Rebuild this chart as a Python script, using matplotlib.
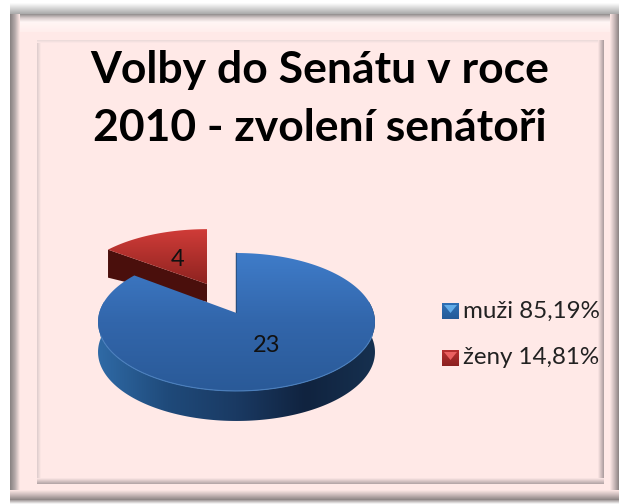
#!/usr/bin/python
# -*- coding: utf-8 -*-
import numpy as np
import matplotlib
matplotlib.use("Agg")
import matplotlib.pyplot as plt
from matplotlib.colors import LinearSegmentedColormap
from matplotlib.patches import Polygon, Rectangle

title = "Volby do Senátu v roce\n2010 - zvolení senátoři"
categories = ["muži", "ženy"]
values = [23, 4]
percent_labels = ["85,19%", "14,81%"]

plt.rcParams['font.family'] = ['Lato', 'DejaVu Sans']

fig = plt.figure(figsize=(6.19, 5.04), dpi=100, facecolor="white")
ax = fig.add_axes([0, 0, 1, 1])
ax.set_axis_off()


def grad(box, colors, horizontal=False, clip=None, z=1):
    x0, x1, y0, y1 = box
    cmap = LinearSegmentedColormap.from_list("g", colors)
    g = np.linspace(0, 1, 256)
    g = g.reshape(1, -1) if horizontal else g.reshape(-1, 1)
    im = ax.imshow(g, cmap=cmap, extent=(x0, x1, y1, y0), aspect="auto",
                   interpolation="bilinear", zorder=z, vmin=0, vmax=1)
    if clip is not None:
        im.set_clip_path(clip)
    return im


# drop shadow above the frame and the frame itself
grad((10, 619, 3, 14), ["#ffffff", "#a8a8a8"], z=1)
grad((10, 619, 500, 504), ["#a09898", "#ffffff"], z=1)
ax.add_patch(Rectangle((10, 14), 609, 486, fc="#ffe9e7", ec="none", zorder=2))
grad((10, 619, 14, 22), ["#8f8b8b", "#d8cccc", "#fff6f5"], z=3)
grad((10, 619, 22, 32), ["#fff6f5", "#ffeeec"], z=3)
grad((10, 20, 14, 500), ["#858080", "#b5aaaa", "#ffe9e7"], horizontal=True, z=4)
grad((610, 619, 14, 500), ["#ffe9e7", "#c8b8b8", "#8a8282"], horizontal=True, z=4)
grad((10, 619, 490, 500), ["#ffe9e7", "#c8b8b8", "#8a8282"], z=4)
grad((37, 41, 40, 482), ["#dccccc", "#ffe9e7"], horizontal=True, z=3)
grad((37, 603, 40, 43), ["#e8d8d8", "#ffe9e7"], z=3)
grad((598, 604, 40, 484), ["#ffe9e7", "#a89a9c"], horizontal=True, z=3)
grad((37, 604, 478, 484), ["#ffe9e7", "#b0a2a4"], z=3)

# slice angles come from the values, clockwise from 12 o'clock
total = sum(values)
split = 2 * np.pi * values[0] / total


def project(t, cx, cy, rx, s, k=0.1304):
    u, v = np.sin(t), np.cos(t)
    w = 1 + k * v
    return cx + rx * u / w, cy - s * v / w


# blue slice
t = np.linspace(0, split, 300)
bx, by = project(t, 236.5, 313, 137.3, 67.8)
mask = (t > np.pi * 0.44) & (t < np.pi * 1.56)
sx = np.r_[bx[mask], bx[mask][::-1]]
sy = np.r_[by[mask], by[mask][::-1] + 30]
side = Polygon(np.c_[sx, sy], closed=True, fc="none", ec="none", zorder=6)
ax.add_patch(side)
grad((bx.min(), bx.max(), by.min(), by.max() + 30),
     ["#2f6aa6", "#1f4a7a", "#1a3a63", "#10233f", "#16304f"],
     horizontal=True, clip=side, z=6)

top = Polygon(np.c_[np.r_[236.5, bx], np.r_[313, by]], closed=True, fc="none", ec="none", zorder=7)
ax.add_patch(top)
grad((bx.min(), bx.max(), by.min(), by.max()), ["#3f7cc9", "#3266ab", "#2a5a98"],
     clip=top, z=7)
front = (t > np.pi * 0.6) & (t < np.pi * 1.4)
ax.plot(bx[front], by[front], color="#4a7fbd", lw=0.8, zorder=8)
ax.plot([236, 236], [by[0], 313], color="#1a3350", lw=1, zorder=5)

# red slice, pulled out of the pie
t2 = np.linspace(split, 2 * np.pi, 80)
rx, ry = project(t2, 207, 284, 133, 62)
wall = Polygon([(rx[0], ry[0]), (207, 284), (207, 302), (rx[0], ry[0] + 28)],
               closed=True, fc="#4a0f0c", ec="none", zorder=5)
ax.add_patch(wall)
rtop = Polygon(np.c_[np.r_[207, rx], np.r_[284, ry]], closed=True, fc="none", ec="none", zorder=6)
ax.add_patch(rtop)
grad((rx.min(), rx.max(), ry.min(), 284), ["#d03c38", "#8e2320"], clip=rtop, z=6)

# data labels
ax.text(267, 345, str(values[0]), ha="center", va="center", fontsize=17, color="#111111", zorder=10)
ax.text(178, 260, str(values[1]), ha="center", va="center", fontsize=17, color="#111111", zorder=10)

ax.text(320, 99, title, ha="center", va="center", fontsize=32, fontweight="bold",
        color="black", linespacing=1.55, zorder=10)

# legend
legend_y = [311, 358]
legend_cols = [["#2f6fb5", "#245a98"], ["#b83030", "#8a2020"]]
legend_tops = ["#62ace8", "#ea6060"]
for cat, pct, yy, cols, top_col in zip(categories, percent_labels, legend_y, legend_cols, legend_tops):
    grad((442, 459, yy - 8, yy + 8), cols, z=9)
    ax.add_patch(Polygon([(444, yy - 6), (457, yy - 6), (450.5, yy + 2)], closed=True,
                         fc=top_col, ec="none", zorder=9.5))
    ax.text(463, yy, cat + " " + pct, ha="left", va="center", fontsize=17.4, color="#222222", zorder=10)

ax.set_xlim(0, 619)
ax.set_ylim(504, 0)
fig.savefig("out.png", dpi=100)
